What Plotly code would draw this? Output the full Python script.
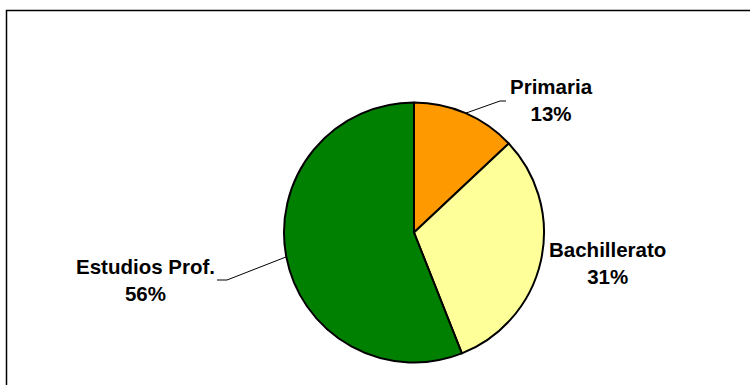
import math
import plotly.graph_objects as go

# Education level distribution
categories = ["Primaria", "Bachillerato", "Estudios Prof."]
values = [13, 31, 56]
colors = ["#FF9900", "#FFFF99", "#008000"]

W, H = 750, 385
CX, CY, R = 414, 232.5, 130  # pie centre / radius in pixels


def px(x):
    return x / W


def py(y):
    return 1 - y / H


fig = go.Figure(
    go.Pie(
        labels=categories,
        values=values,
        sort=False,
        direction="clockwise",
        rotation=0,
        textinfo="none",
        hoverinfo="label+percent",
        marker=dict(colors=colors, line=dict(color="black", width=2)),
        domain=dict(x=[px(CX - R), px(CX + R)], y=[py(CY + R), py(CY - R)]),
        showlegend=False,
    )
)

total = sum(values)
percents = [round(100 * v / total) for v in values]

# label block centres and leader-line elbows (pixels)
label_pos = {
    "Primaria": (551, 100),
    "Bachillerato": (607, 263),
    "Estudios Prof.": (145, 280),
}
leaders = {
    "Primaria": [(500, 101), (506, 101)],
    "Estudios Prof.": [(227, 280), (217, 280)],
}

shapes = []
annotations = []
cum = 0
for name, v, p in zip(categories, values, percents):
    mid = (cum + v / 2) / total * 2 * math.pi
    cum += v
    ex = CX + R * math.sin(mid)
    ey = CY - R * math.cos(mid)
    if name in leaders:
        pts = [(ex, ey)] + leaders[name]
        path = "M " + " L ".join(f"{px(x)},{py(y)}" for x, y in pts)
        shapes.append(dict(type="path", xref="paper", yref="paper", path=path,
                           line=dict(color="black", width=1)))
    lx, ly = label_pos[name]
    annotations.append(dict(
        x=px(lx), y=py(ly), xref="paper", yref="paper", showarrow=False,
        xanchor="center", yanchor="middle", align="center",
        text=f"<b>{name}</b><br><b>{p}%</b>",
        font=dict(family="Liberation Sans, Arial, sans-serif", size=20.5, color="black"),
    ))

# chart frame
shapes.append(dict(type="rect", xref="paper", yref="paper",
                   x0=px(6.5), x1=1.05, y0=-0.05, y1=py(10.5),
                   line=dict(color="black", width=1.5)))

fig.update_layout(
    width=W, height=H,
    margin=dict(l=0, r=0, t=0, b=0),
    paper_bgcolor="white",
    plot_bgcolor="white",
    shapes=shapes,
    annotations=annotations,
)

fig.write_html("out.html")
